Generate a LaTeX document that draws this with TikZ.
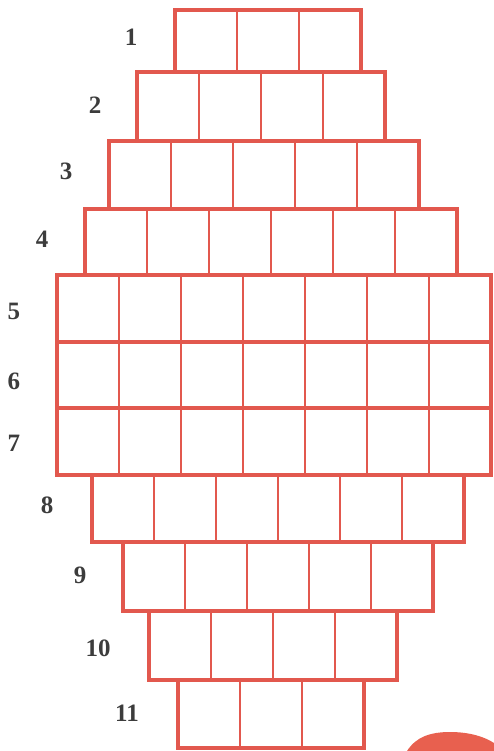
\documentclass[tikz,border=0pt]{standalone}
\usepackage{fontspec}
\setmainfont{Liberation Serif}
\usetikzlibrary{positioning}
\definecolor{grid}{HTML}{E2584E}
\definecolor{num}{HTML}{3C3C3C}
\definecolor{blob}{HTML}{E8604F}

\begin{document}
\begin{tikzpicture}[x=1pt,y=-1pt,
  cell/.style={draw=grid,line width=1.4pt,inner sep=0pt,outer sep=0pt,anchor=north west,minimum width=62pt},
  frame/.style={draw=grid,line width=3.2pt,inner sep=0pt,outer sep=0pt,anchor=north west},
  lab/.style={font=\fontsize{25}{25}\selectfont\bfseries,text=num,inner sep=0pt}]
\useasboundingbox (0,0) rectangle (494,751);

%% rows: number / left edge / cells / top / bottom / label x / label y
\foreach \n/\xl/\k/\yt/\yb/\lx/\ly in {
  1/175/3/10/72/131/37,
  2/137/4/72/141/95/105,
  3/109/5/141/209/66/171,
  4/85/6/209/275/42/239,
  5/57/7/275/342/14/311,
  6/57/7/342/408/14/381,
  7/57/7/408/475/14/443,
  8/92/6/475/542/47/505,
  9/123/5/542/611/80/575,
  10/149/4/611/680/98/648,
  11/178/3/680/748/127/713}{
  \foreach \j in {1,...,\k}
    \node[cell,minimum height=\yb pt-\yt pt] (c\n-\j) at ({\xl+62*(\j-1)},\yt) {};
  \node[frame,minimum width=\k*62pt,minimum height=\yb pt-\yt pt] (row\n) at (\xl,\yt) {};
  \node[lab] (lab\n) at (\lx,\ly) {\n};
}

%% red patch at the lower right corner
\fill[blob] (407,751) .. controls (416,737) and (430,732) .. (450,732)
  .. controls (470,732) and (485,737) .. (494,743) -- (494,751) -- cycle;
\end{tikzpicture}
\end{document}
